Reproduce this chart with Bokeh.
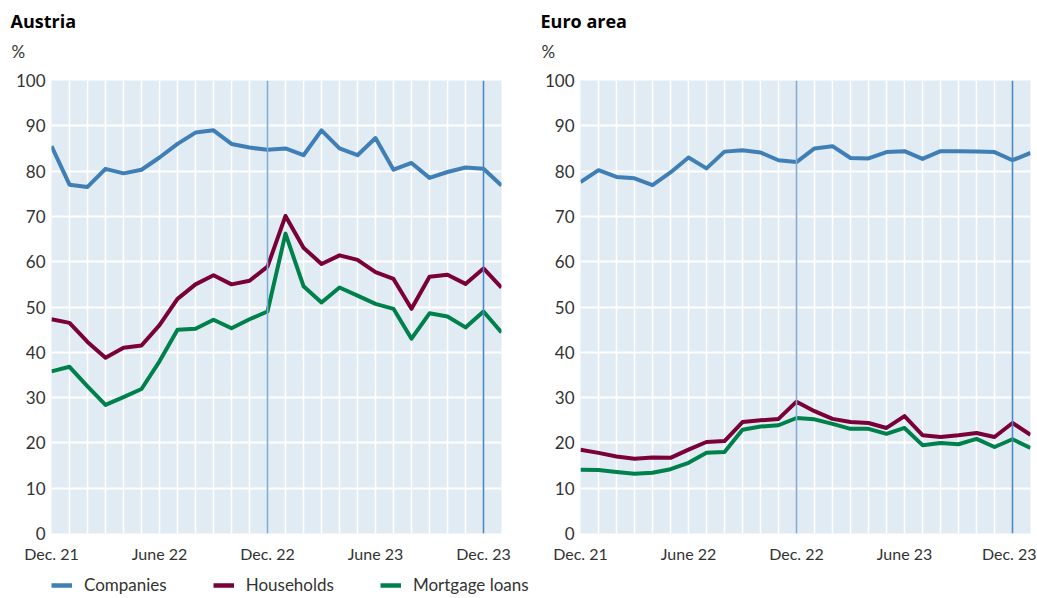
from bokeh.plotting import figure
from bokeh.models import FixedTicker, Span, Legend, LegendItem, Title, Range1d
from bokeh.layouts import row, column
from bokeh.embed import file_html
from bokeh.resources import INLINE

# Monthly observations, Dec. 21 ... Jan. 24
months = ["Dec. 21", "Jan. 22", "Feb. 22", "Mar. 22", "Apr. 22", "May 22", "June 22",
          "July 22", "Aug. 22", "Sep. 22", "Oct. 22", "Nov. 22", "Dec. 22", "Jan. 23",
          "Feb. 23", "Mar. 23", "Apr. 23", "May 23", "June 23", "July 23", "Aug. 23",
          "Sep. 23", "Oct. 23", "Nov. 23", "Dec. 23", "Jan. 24"]
tick_months = ["Dec. 21", "June 22", "Dec. 22", "June 23", "Dec. 23"]
marker_months = ["Dec. 22", "Dec. 23"]
marker_colors = ["#7eaad4", "#4a86c0"]

at_companies = [85.5, 77.0, 76.5, 80.5, 79.5, 80.3, 83.0, 86.0, 88.5, 89.0, 86.0, 85.2, 84.7,
                85.0, 83.5, 89.0, 85.0, 83.5, 87.3, 80.3, 81.8, 78.5, 79.8, 80.8, 80.5, 76.8]
at_households = [47.3, 46.5, 42.3, 38.8, 41.0, 41.5, 46.0, 51.8, 55.0, 57.0, 55.0, 55.8, 58.9,
                 70.1, 63.1, 59.5, 61.4, 60.4, 57.7, 56.2, 49.6, 56.7, 57.1, 55.1, 58.5, 54.3]
at_mortgage = [35.8, 36.8, 32.5, 28.4, 30.1, 31.9, 38.0, 45.0, 45.2, 47.2, 45.3, 47.3, 49.0,
               66.2, 54.6, 51.0, 54.3, 52.5, 50.7, 49.6, 43.0, 48.6, 47.9, 45.5, 49.0, 44.4]

ea_companies = [77.6, 80.2, 78.7, 78.4, 76.9, 79.7, 83.0, 80.6, 84.3, 84.6, 84.1, 82.4, 82.0,
                85.0, 85.5, 82.9, 82.8, 84.2, 84.4, 82.7, 84.4, 84.4, 84.3, 84.2, 82.4, 84.0]
ea_households = [18.5, 17.8, 17.0, 16.5, 16.8, 16.7, 18.5, 20.2, 20.4, 24.6, 25.0, 25.3, 29.1,
                 27.0, 25.3, 24.6, 24.4, 23.3, 25.9, 21.7, 21.3, 21.7, 22.2, 21.3, 24.4, 21.8]
ea_mortgage = [14.1, 14.0, 13.6, 13.2, 13.4, 14.2, 15.6, 17.8, 18.0, 22.9, 23.6, 23.9, 25.5,
               25.2, 24.2, 23.1, 23.1, 22.0, 23.3, 19.5, 20.0, 19.7, 20.9, 19.1, 20.8, 18.9]

series_names = ["Companies", "Households", "Mortgage loans"]
colors = ["#3f7fb5", "#7a0038", "#00804a"]

FONT = "Lato"
TXT = "#333333"
xs = list(range(len(months)))


def make_panel(title, series, width, right_border, title_offset):
    p = figure(width=width, height=565, title=None,
               x_range=Range1d(0, len(months) - 1), y_range=Range1d(0, 100),
               output_backend="svg", toolbar_location=None,
               min_border_left=51, min_border_right=right_border,
               min_border_top=0, min_border_bottom=30,
               background_fill_color="#e0ebf4", border_fill_color="white",
               outline_line_color=None)
    # spacer between the unit label and the plot area
    p.add_layout(Title(text=" ", text_font=FONT, text_font_size="10px",
                       align="left", standoff=5), "above")
    p.add_layout(Title(text="%", text_font=FONT, text_font_size="17px", text_color=TXT,
                       text_font_style="normal", align="left", offset=title_offset + 1,
                       standoff=0), "above")
    p.add_layout(Title(text=title, text_font="Open Sans", text_font_size="18px", text_color="black",
                       text_font_style="bold", align="left", offset=title_offset - 6, standoff=0,
                       padding=6), "above")

    p.xgrid.ticker = FixedTicker(ticks=xs[1:-1])
    p.xgrid.grid_line_color = "white"
    p.xgrid.grid_line_width = 1.6
    p.ygrid.ticker = FixedTicker(ticks=list(range(10, 100, 10)))
    p.ygrid.grid_line_color = "white"
    p.ygrid.grid_line_width = 2

    ticks = [months.index(m) for m in tick_months]
    p.xaxis.ticker = FixedTicker(ticks=ticks)
    p.xaxis.major_label_overrides = {t: months[t] for t in ticks}
    p.yaxis.ticker = FixedTicker(ticks=list(range(0, 101, 10)))
    for ax in (p.xaxis[0], p.yaxis[0]):
        ax.axis_line_color = None
        ax.major_tick_line_color = None
        ax.minor_tick_line_color = None
        ax.major_tick_out = 0
        ax.major_tick_in = 0
        ax.minor_tick_out = 0
        ax.axis_label = None
        ax.axis_label_standoff = 0
        ax.major_label_text_font = FONT
        ax.major_label_text_color = TXT
    p.xaxis.major_label_text_font_size = "16px"
    p.yaxis.major_label_text_font_size = "17px"
    p.xaxis.major_label_standoff = 10
    p.yaxis.major_label_standoff = 6

    for m, mc in zip(marker_months, marker_colors):
        p.add_layout(Span(location=months.index(m), dimension="height",
                          line_color=mc, line_width=1.6))

    for vals, c in zip(series, colors):
        p.line(xs, vals, line_color=c, line_width=4, line_join="round")
    return p


p1 = make_panel("Austria", [at_companies, at_households, at_mortgage], 529, 28, -41)
p2 = make_panel("Euro area", [ea_companies, ea_households, ea_mortgage], 507, 6, -40)

# Shared legend strip below the panels (its series lie outside its visible range,
# so only the legend keys and labels show)
lf = figure(width=529, height=33, output_backend="svg", toolbar_location=None,
            x_range=Range1d(0, len(months) - 1), y_range=Range1d(200, 300),
            x_axis_location=None, y_axis_location=None,
            min_border_left=51, min_border_right=0, min_border_top=0, min_border_bottom=0,
            background_fill_color="white", border_fill_color="white", outline_line_color=None)
lf.grid.visible = False
legend_renderers = [lf.line(xs, vals, line_color=c, line_width=4.5)
                    for vals, c in zip([at_companies, at_households, at_mortgage], colors)]
leg = Legend(items=[LegendItem(label=n, renderers=[r]) for n, r in zip(series_names, legend_renderers)],
             orientation="horizontal", location=(0, 3),
             glyph_width=21, glyph_height=20, label_height=20, label_standoff=12, spacing=46,
             margin=0, padding=0, border_line_color=None, background_fill_alpha=0,
             label_text_font=FONT, label_text_font_size="17px", label_text_color=TXT)
lf.add_layout(leg, "center")

p = column(row(p1, p2), lf)

open("out.html", "w").write(file_html(p, INLINE))
